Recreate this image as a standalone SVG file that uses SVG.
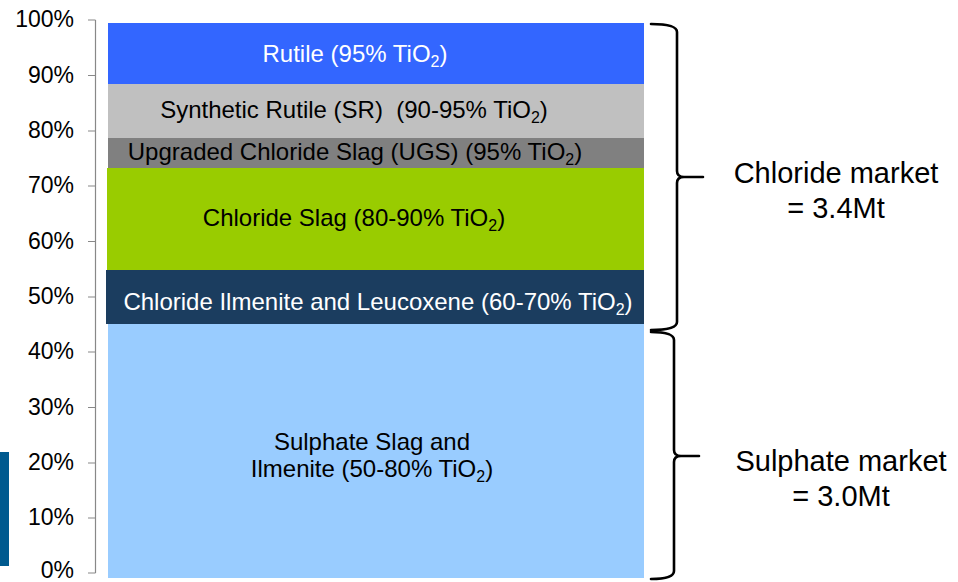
<svg xmlns="http://www.w3.org/2000/svg" width="958" height="582" viewBox="0 0 958 582">
<style>
text{font-family:"Liberation Sans",Arial,sans-serif;}
.ax{font-size:23px;fill:#000;text-anchor:end;}
.lbl{font-size:24px;text-anchor:middle;}
.mk{font-size:29px;text-anchor:middle;fill:#000;}
.sub{font-size:16px;}
.tick{stroke:#888;stroke-width:1.2;fill:none;}
.brace{stroke:#000;stroke-width:2.6;fill:none;stroke-linecap:round;}
</style>
<rect x="0" y="0" width="958" height="582" fill="#fff"/>
<rect x="0" y="452" width="9" height="114" fill="#005a8f"/>
<g id="axis">
<path class="tick" d="M95.5,20V573M88,20H95.5M88,75.5H95.5M88,131H95.5M88,186H95.5M88,241.5H95.5M88,297H95.5M88,352H95.5M88,407.5H95.5M88,463H95.5M88,518H95.5M88,573H95.5"/>
<text class="ax" x="74" y="27">100%</text>
<text class="ax" x="74" y="82.5">90%</text>
<text class="ax" x="74" y="138">80%</text>
<text class="ax" x="74" y="193">70%</text>
<text class="ax" x="74" y="248.5">60%</text>
<text class="ax" x="74" y="304">50%</text>
<text class="ax" x="74" y="359">40%</text>
<text class="ax" x="74" y="414.5">30%</text>
<text class="ax" x="74" y="470">20%</text>
<text class="ax" x="74" y="525">10%</text>
<text class="ax" x="74" y="578">0%</text>
</g>
<g id="rutile">
<rect x="108" y="23" width="536" height="61" fill="#3366ff"/>
<text class="lbl" x="355" y="62" fill="#fff">Rutile (95% TiO<tspan class="sub" dy="5">2</tspan><tspan dy="-5">)</tspan></text>
</g>
<g id="synthetic-rutile">
<rect x="108" y="84" width="536" height="54" fill="#c0c0c0"/>
<text class="lbl" x="354" y="118" fill="#000" xml:space="preserve">Synthetic Rutile (SR)  (90-95% TiO<tspan class="sub" dy="5">2</tspan><tspan dy="-5">)</tspan></text>
</g>
<g id="ugs">
<rect x="108" y="138" width="536" height="30" fill="#808080"/>
<text class="lbl" x="355" y="160" fill="#000">Upgraded Chloride Slag (UGS) (95% TiO<tspan class="sub" dy="5">2</tspan><tspan dy="-5">)</tspan></text>
</g>
<g id="chloride-slag">
<rect x="107" y="168" width="537" height="102" fill="#99cc00"/>
<text class="lbl" x="354" y="226" fill="#000">Chloride Slag (80-90% TiO<tspan class="sub" dy="5">2</tspan><tspan dy="-5">)</tspan></text>
</g>
<g id="chloride-ilmenite">
<rect x="106" y="270" width="538" height="54" fill="#1b3d5f"/>
<text class="lbl" x="378" y="310" fill="#fff">Chloride Ilmenite and Leucoxene (60-70% TiO<tspan class="sub" dy="5">2</tspan><tspan dy="-5">)</tspan></text>
</g>
<g id="sulphate">
<rect x="108" y="324" width="536" height="254" fill="#99ccff"/>
<text class="lbl" x="372" y="450" fill="#000">Sulphate Slag and</text>
<text class="lbl" x="372" y="477" fill="#000">Ilmenite (50-80% TiO<tspan class="sub" dy="5">2</tspan><tspan dy="-5">)</tspan></text>
</g>
<g id="connectors">
<path class="brace" d="M651,24Q677,24 677,32L677,171Q677,177 684,177L703,177M684,177Q677,177 677,183L677,322Q677,330 651,330"/>
<path class="brace" d="M651,332Q674,332 674,340L674,450Q674,456 681,456L699,456M681,456Q674,456 674,462L674,571Q674,579 651,579"/>
</g>
<g id="chloride-market">
<text class="mk" x="836" y="183">Chloride market</text>
<text class="mk" x="836" y="218">= 3.4Mt</text>
</g>
<g id="sulphate-market">
<text class="mk" x="841" y="471">Sulphate market</text>
<text class="mk" x="841" y="506">= 3.0Mt</text>
</g>
</svg>
